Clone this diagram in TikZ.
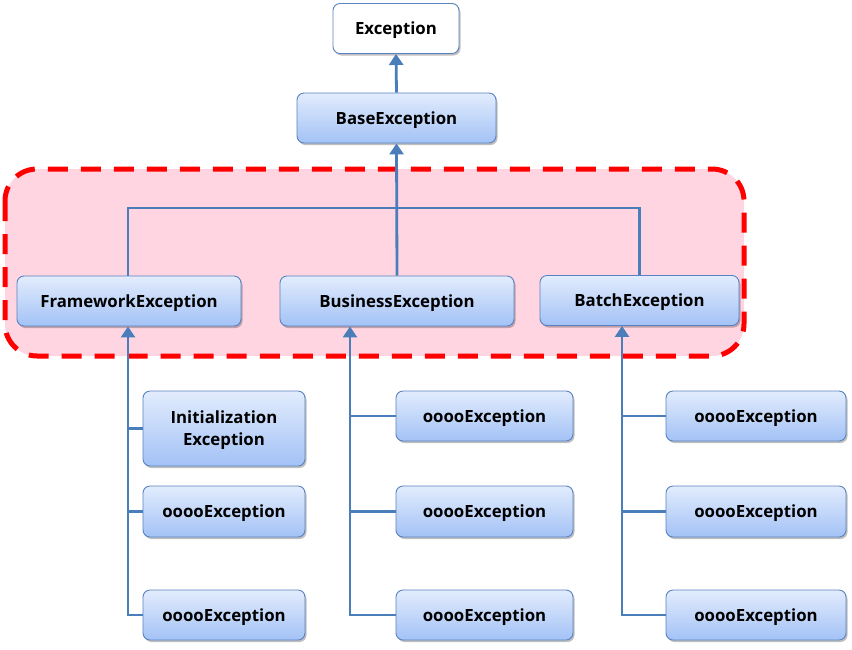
\documentclass[tikz,border=0pt]{standalone}
\usepackage{fontspec}
\setmainfont{Open Sans}
\usetikzlibrary{arrows.meta,shadows}
\definecolor{bordc}{HTML}{5A82C2}
\definecolor{linec}{HTML}{4A7EBB}
\definecolor{topc}{HTML}{E2ECFD}
\definecolor{botc}{HTML}{A3C2F6}
\definecolor{pinkc}{HTML}{FFD5E2}
\tikzset{
  box/.style={draw=bordc, line width=0.9pt, rounded corners=7pt, top color=topc, bottom color=botc,
    minimum height=50pt, inner sep=0pt, align=center, text depth=0pt,
    font=\bfseries\fontsize{16.8}{22}\selectfont,
    drop shadow={shadow xshift=1.5pt, shadow yshift=-2pt, opacity=0.25, fill=black}},
  wbox/.style={box, top color=white, bottom color=white},
  conn/.style={draw=linec, line width=2.8pt},
  uparr/.style={conn, -{Triangle[length=11pt,width=14pt]}},
}
\begin{document}
\begin{tikzpicture}[x=1pt,y=-1pt]
\useasboundingbox (0,0) rectangle (852,649);
% highlighted region
\draw[red, line width=5pt, dash pattern=on 20pt off 13pt, fill=pinkc, rounded corners=32pt]
  (5,169) rectangle (744,356);
% nodes
\node[wbox, minimum width=126pt] (exc) at (396,28.5) {Exception};
\node[box, minimum width=199pt] (base) at (396.5,118) {BaseException};
\node[box, minimum width=224pt] (fw) at (129,301) {FrameworkException};
\node[box, minimum width=234pt] (bus) at (397,301) {BusinessException};
\node[box, minimum width=199pt] (bat) at (639.5,300.5) {BatchException};
\node[box, minimum width=162pt, minimum height=75pt] (l1) at (224,428.5) {Initialization\\Exception};
\node[box, minimum width=162pt, minimum height=51pt] (l2) at (224,511.5) {ooooException};
\node[box, minimum width=162pt] (l3) at (224,615) {ooooException};
\node[box, minimum width=177pt] (m1) at (484.5,416) {ooooException};
\node[box, minimum width=177pt, minimum height=51pt] (m2) at (484.5,511.5) {ooooException};
\node[box, minimum width=177pt] (m3) at (484.5,615) {ooooException};
\node[box, minimum width=180pt] (r1) at (756,416) {ooooException};
\node[box, minimum width=180pt, minimum height=51pt] (r2) at (756,511.5) {ooooException};
\node[box, minimum width=180pt] (r3) at (756,615) {ooooException};
\coordinate (hub) at (396.5,208);
\coordinate (lx) at (128,0);
\coordinate (mx) at (350,0);
\coordinate (rx) at (622,0);
% connectors
\draw[uparr] (base.north) -- (exc.south);
\draw[uparr] (bus.north) -- (base.south);
\draw[conn] (fw.north -| lx) |- (hub) -| (bat.north);
\draw[uparr] (l3.west) -| (lx |- fw.south);
\draw[conn] (l1.west) -- (l1.west -| lx);
\draw[conn] (l2.west) -- (l2.west -| lx);
\draw[uparr] (m3.west) -| (mx |- bus.south);
\draw[conn] (m1.west) -- (m1.west -| mx);
\draw[conn] (m2.west) -- (m2.west -| mx);
\draw[uparr] (r3.west) -| (rx |- bat.south);
\draw[conn] (r1.west) -- (r1.west -| rx);
\draw[conn] (r2.west) -- (r2.west -| rx);
\end{tikzpicture}
\end{document}
